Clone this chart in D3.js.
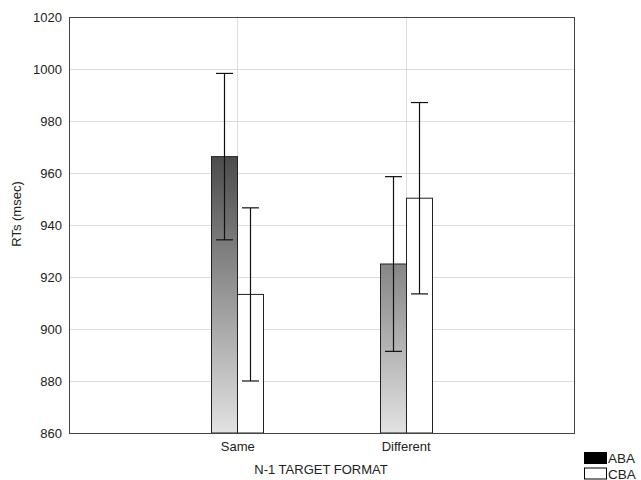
<!DOCTYPE html>
<html><head><meta charset="utf-8">
<script src="https://cdn.jsdelivr.net/npm/d3@7"></script>
<style>body{margin:0;background:#fff;}svg{display:block;font-family:"Liberation Sans",Arial,sans-serif;}</style>
</head><body>
<svg id="c" width="641" height="480"></svg>
<script>
const categories = ["Same", "Different"];
const seriesNames = ["ABA", "CBA"];
const abaMeans = [966.3, 925.0];
const abaErr = [32.0, 33.6];
const cbaMeans = [913.3, 950.3];
const cbaErr = [33.3, 36.8];
const yTicks = [860, 880, 900, 920, 940, 960, 980, 1000, 1020];
const xTitle = "N-1 TARGET FORMAT";
const yTitle = "RTs (msec)";

const svg = d3.select("#c");
const L = 69, R = 574, T = 17, B = 433;
const x = d3.scalePoint().domain(categories).range([L, R]).padding(1);
const y = d3.scaleLinear().domain([860, 1020]).range([B, T]);
const bw = 26;
const FONT = "Liberation Sans, Arial, sans-serif";

const defs = svg.append("defs");
const g = defs.append("linearGradient").attr("id", "grad")
  .attr("gradientUnits", "userSpaceOnUse")
  .attr("x1", 0).attr("x2", 0).attr("y1", y(1020)).attr("y2", y(860));
g.append("stop").attr("offset", "0%").attr("stop-color", "#000");
g.append("stop").attr("offset", "100%").attr("stop-color", "#e2e2e2");

// grid
svg.append("g").selectAll("line").data(yTicks.slice(1, -1)).join("line")
  .attr("x1", L).attr("x2", R).attr("y1", d => y(d) + 0.5).attr("y2", d => y(d) + 0.5)
  .attr("stroke", "#dcdcdc").attr("stroke-width", 1);
svg.append("g").selectAll("line").data(categories).join("line")
  .attr("x1", d => Math.round(x(d)) + 0.5).attr("x2", d => Math.round(x(d)) + 0.5)
  .attr("y1", T).attr("y2", B)
  .attr("stroke", "#dcdcdc").attr("stroke-width", 1);

// y axis labels
const yAxis = d3.axisLeft(y).tickValues(yTicks).tickFormat(d3.format("d")).tickSize(0).tickPadding(7);
const ya = svg.append("g").attr("transform", `translate(${L},0)`).call(yAxis);
ya.select(".domain").remove();
ya.selectAll("text").attr("font-size", 13).attr("fill", "#222").attr("font-family", FONT);

// x axis labels
const xAxis = d3.axisBottom(x).tickSize(0).tickPadding(9);
const xa = svg.append("g").attr("transform", `translate(0,${B})`).call(xAxis);
xa.select(".domain").remove();
xa.selectAll("text").attr("font-size", 13).attr("fill", "#222").attr("font-family", FONT);

// bars
const series = [
  {name: "ABA", means: abaMeans, errs: abaErr, fill: "url(#grad)", off: -bw},
  {name: "CBA", means: cbaMeans, errs: cbaErr, fill: "#fff", off: 0}
];
series.forEach(s => {
  svg.append("g").selectAll("rect").data(categories).join("rect")
    .attr("x", d => Math.round(x(d)) + s.off + 0.5)
    .attr("y", (d, i) => y(s.means[i]))
    .attr("width", bw)
    .attr("height", (d, i) => B - y(s.means[i]))
    .attr("fill", s.fill).attr("stroke", "#222").attr("stroke-width", 1);
});
series.forEach(s => {
  const ge = svg.append("g").attr("stroke", "#111").attr("stroke-width", 1.2);
  categories.forEach((c, i) => {
    const cx = Math.round(x(c)) + s.off + bw / 2 + 0.5;
    const hi = y(s.means[i] + s.errs[i]), lo = y(s.means[i] - s.errs[i]);
    ge.append("line").attr("x1", cx).attr("x2", cx).attr("y1", hi).attr("y2", lo);
    ge.append("line").attr("x1", cx - 8.5).attr("x2", cx + 8.5).attr("y1", hi).attr("y2", hi);
    ge.append("line").attr("x1", cx - 8.5).attr("x2", cx + 8.5).attr("y1", lo).attr("y2", lo);
  });
});

// frame
svg.append("rect").attr("x", L + 0.5).attr("y", T + 0.5).attr("width", R - L).attr("height", B - T)
  .attr("fill", "none").attr("stroke", "#444").attr("stroke-width", 1);

// titles
svg.append("text").attr("x", 321).attr("y", 474).attr("text-anchor", "middle")
  .attr("font-size", 13).attr("fill", "#222").text(xTitle);
svg.append("text").attr("transform", "translate(21,214) rotate(-90)").attr("text-anchor", "middle")
  .attr("font-size", 13).attr("fill", "#222").text(yTitle);

// legend
const lg = svg.append("g");
seriesNames.forEach((n, i) => {
  const yy = 452.5 + i * 15.5;
  lg.append("rect").attr("x", 584.5).attr("y", yy).attr("width", 22).attr("height", 11)
    .attr("fill", i === 0 ? "#000" : "#fff").attr("stroke", "#000").attr("stroke-width", 1);
  lg.append("text").attr("x", 608).attr("y", yy + 10.5).attr("font-size", 13.5).attr("fill", "#222").text(n);
});
</script>
</body></html>
